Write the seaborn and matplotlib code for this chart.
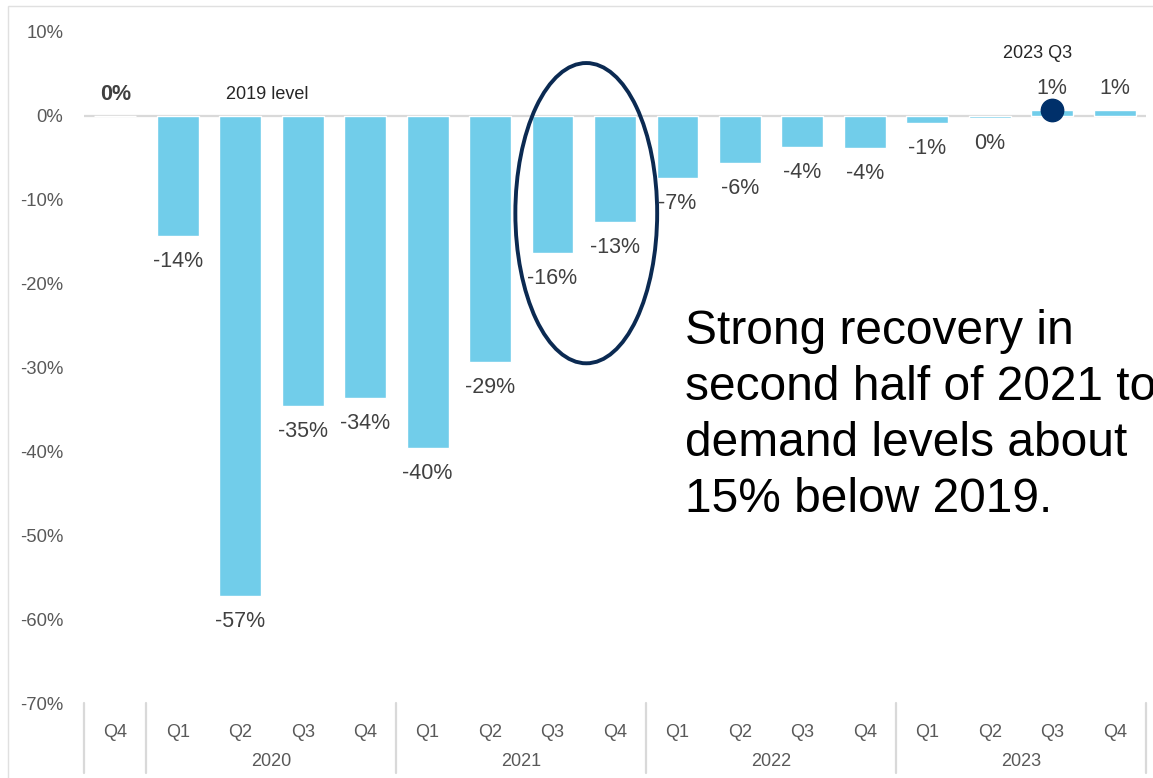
import matplotlib
matplotlib.use("Agg")
import matplotlib.pyplot as plt
from matplotlib.patches import Ellipse, Rectangle
from matplotlib.lines import Line2D
import matplotlib.transforms as mtrans
import seaborn as sns
import pandas as pd

# ---- data ----
periods = ["2019 Q4",
           "2020 Q1", "2020 Q2", "2020 Q3", "2020 Q4",
           "2021 Q1", "2021 Q2", "2021 Q3", "2021 Q4",
           "2022 Q1", "2022 Q2", "2022 Q3", "2022 Q4",
           "2023 Q1", "2023 Q2", "2023 Q3", "2023 Q4"]
quarter_labels = ["Q4", "Q1", "Q2", "Q3", "Q4", "Q1", "Q2", "Q3", "Q4",
                  "Q1", "Q2", "Q3", "Q4", "Q1", "Q2", "Q3", "Q4"]
values = [0.0, -14.3, -57.2, -34.6, -33.6, -39.6, -29.3, -16.3, -12.6,
          -7.4, -5.6, -3.7, -3.8, -0.8, -0.2, 0.7, 0.7]
years = ["2020", "2021", "2022", "2023"]
year_spans = [(1, 4), (5, 8), (9, 12), (13, 16)]
y_ticks = [10, 0, -10, -20, -30, -40, -50, -60, -70]
headline = "Strong recovery in\nsecond half of 2021 to\ndemand levels about\n15% below 2019."

BAR = "#71CDEA"
NAVY = "#0B2A52"
DOT = "#00306A"
GRID = "#D9D9D9"
TICK = "#595959"
LABEL = "#404040"

sns.set_theme(style="white")
plt.rcParams["font.family"] = ["Liberation Sans", "DejaVu Sans"]

W, H = 1153, 778
fig = plt.figure(figsize=(W / 100, H / 100), dpi=100)
ax = fig.add_axes([84 / W, (H - 703) / H, (1146 - 84) / W, (703 - 32) / H])

df = pd.DataFrame({"period": periods, "value": values})
sns.barplot(data=df, x="period", y="value", color=BAR, saturation=1,
            width=0.67, ax=ax, order=periods)

ax.set_xlim(-0.5, len(periods) - 0.5)
ax.set_ylim(-70, 10)
ax.set_yticks(y_ticks)
ax.set_yticklabels([f"{t}%" for t in y_ticks], color=TICK, fontsize=13.3)
ax.tick_params(axis="y", length=0, pad=15)
ax.set_xticks(range(len(periods)))
ax.set_xticklabels(quarter_labels, color=TICK, fontsize=13)
ax.tick_params(axis="x", length=0, pad=15)
ax.set_xlabel("")
ax.set_ylabel("")
for s in ax.spines.values():
    s.set_visible(False)
ax.axhline(0, color=GRID, lw=1.6, zorder=0.5)

# year labels and separators
trans = mtrans.blended_transform_factory(ax.transData, ax.transAxes)
for yr, (a, b) in zip(years, year_spans):
    ax.text((a + b) / 2, -0.087, yr, transform=trans, ha="center", va="center",
            color=TICK, fontsize=13)
for xsep in [-0.5, 0.5, 4.5, 8.5, 12.5, 16.5]:
    ax.add_line(Line2D([xsep, xsep], [-0.0, -0.105], transform=trans,
                       color=GRID, lw=1.6, clip_on=False))

# data labels
for i, v in enumerate(values):
    txt = f"{int(round(v))}%"
    if v >= 0:
        ax.annotate(txt, (i, v), xytext=(0, 15.5), textcoords="offset points",
                    ha="center", va="center", fontsize=15.5, color=LABEL,
                    fontweight="bold" if i == 0 else "normal")
    else:
        ax.annotate(txt, (i, v), xytext=(0, -18.5), textcoords="offset points",
                    ha="center", va="center", fontsize=15.5, color=LABEL)

ax.text(2.44, 2.5, "2019 level", ha="center", va="center", fontsize=13, color="#262626")
ax.text(14.77, 7.4, "2023 Q3", ha="center", va="center", fontsize=13, color="#262626")
ax.scatter([15], [values[15]], s=260, color=DOT, zorder=5)

ax.add_patch(Ellipse((7.54, -11.6), width=2.27, height=35.8, fill=False,
                     edgecolor=NAVY, lw=2.8, zorder=4))

fig.text(685 / W, (H - 309) / H, headline, ha="left", va="top", fontsize=34.5,
         color="black", linespacing=1.31)

fig.patches.append(Rectangle((8 / W, -0.1), 1.2, (H - 6) / H + 0.1, fill=False,
                             edgecolor="#E0E0E0", lw=1, transform=fig.transFigure))

fig.savefig("out.png", dpi=100)
